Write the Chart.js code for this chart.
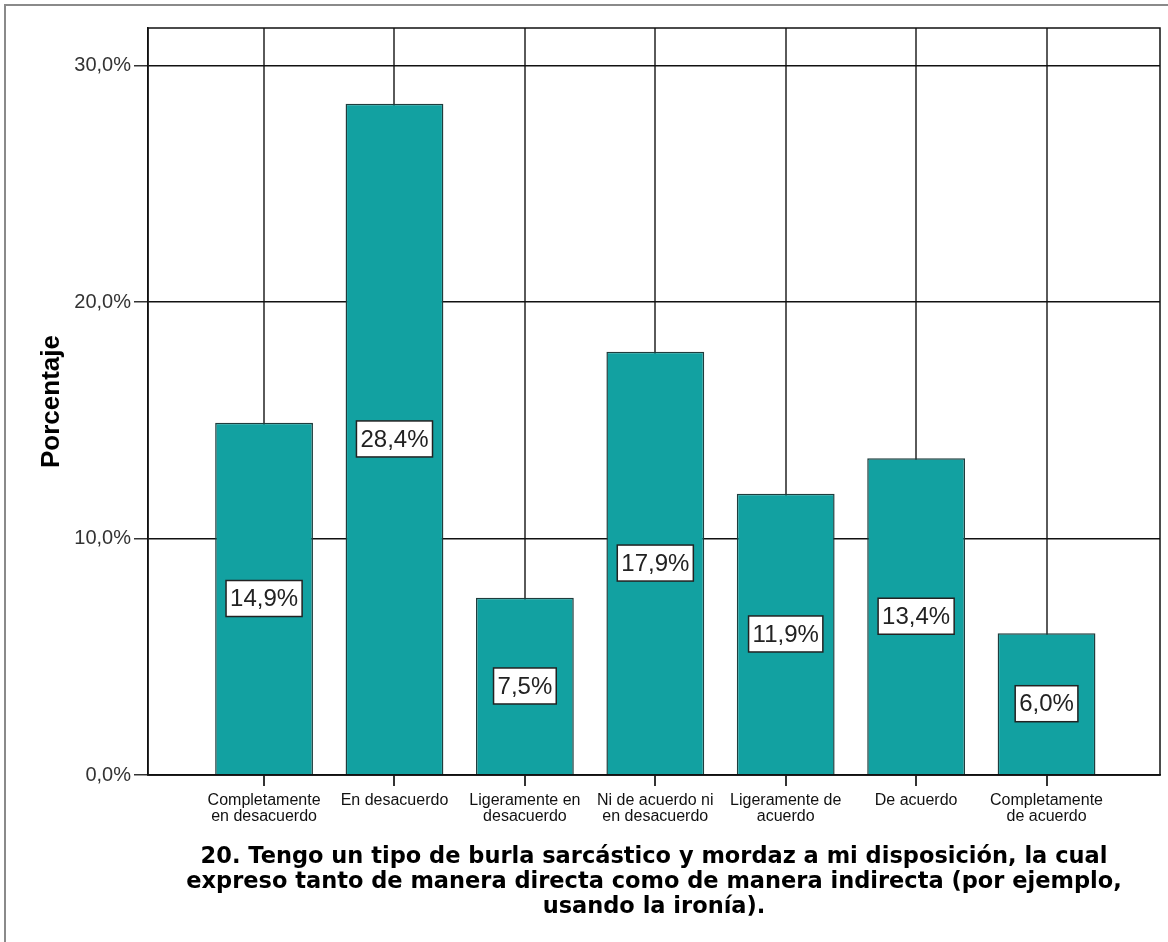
<!DOCTYPE html>
<html>

<head>
    <title>Porcentaje - pregunta 20</title>
    <script src="https://cdn.jsdelivr.net/npm/chart.js"></script>
    <style>
        body { margin: 0; background: #fff; }
        #wrap { position: relative; width: 1168px; height: 942px; }
    </style>
</head>

<body>
    <div id="wrap"><canvas id="chart"></canvas></div>

    <script>
        // Categories (two lines each, as printed under the axis)
        const categories = [
            ['Completamente', 'en desacuerdo'],
            ['En desacuerdo'],
            ['Ligeramente en', 'desacuerdo'],
            ['Ni de acuerdo ni', 'en desacuerdo'],
            ['Ligeramente de', 'acuerdo'],
            ['De acuerdo'],
            ['Completamente', 'de acuerdo']
        ];

        // Percentages
        const values = [14.9, 28.4, 7.5, 17.9, 11.9, 13.4, 6.0];

        // Y axis ticks
        const yTicks = [0, 10, 20, 30];

        const xTitle = [
            '20. Tengo un tipo de burla sarcástico y mordaz a mi disposición, la cual',
            'expreso tanto de manera directa como de manera indirecta (por ejemplo,',
            'usando la ironía).'
        ];

        function pct(v) {
            return v.toFixed(1).replace('.', ',') + '%';
        }

        // Outer frame + plot border
        const framePlugin = {
            id: 'frame',
            beforeDraw(chart) {
                const ctx = chart.ctx;
                ctx.save();
                ctx.strokeStyle = '#8a8a8a';
                ctx.lineWidth = 2;
                ctx.beginPath();
                ctx.moveTo(5, chart.height);
                ctx.lineTo(5, 5);
                ctx.lineTo(chart.width, 5);
                ctx.stroke();
                ctx.restore();
            },
            afterDatasetsDraw(chart) {
                const a = chart.chartArea;
                const ctx = chart.ctx;
                ctx.save();
                ctx.strokeStyle = '#111';
                ctx.lineWidth = 1.5;
                ctx.strokeRect(a.left, a.top, a.right - a.left, a.bottom - a.top);
                ctx.restore();
            }
        };

        // White boxed value labels at mid height of each bar
        const labelPlugin = {
            id: 'boxLabels',
            afterDatasetsDraw(chart) {
                const ctx = chart.ctx;
                const meta = chart.getDatasetMeta(0);
                ctx.save();
                ctx.font = '24px "Liberation Sans", Arial, sans-serif';
                ctx.textAlign = 'center';
                ctx.textBaseline = 'middle';
                meta.data.forEach((bar, i) => {
                    const txt = pct(values[i]);
                    const w = ctx.measureText(txt).width + 8;
                    const h = 36;
                    const cy = (bar.y + bar.base) / 2;
                    ctx.fillStyle = '#fff';
                    ctx.fillRect(bar.x - w / 2, cy - h / 2, w, h);
                    ctx.strokeStyle = '#222';
                    ctx.lineWidth = 1.5;
                    ctx.strokeRect(bar.x - w / 2, cy - h / 2, w, h);
                    ctx.fillStyle = '#222';
                    ctx.fillText(txt, bar.x, cy + 1);
                });
                ctx.restore();
            }
        };

        const ctx = document.getElementById('chart').getContext('2d');
        const chart = new Chart(ctx, {
            type: 'bar',
            data: {
                datasets: [{
                    label: 'Porcentaje',
                    data: values.map((v, i) => ({ x: i + 1, y: v })),
                    backgroundColor: '#12a1a1',
                    borderColor: '#1f3d3d',
                    borderWidth: 1.5,
                    categoryPercentage: 1,
                    barPercentage: 0.75
                }]
            },
            options: {
                responsive: true,
                maintainAspectRatio: false,
                animation: false,
                layout: { padding: { top: 28, right: 8, left: 0, bottom: 0 } },
                plugins: {
                    legend: { display: false },
                    tooltip: { enabled: false }
                },
                scales: {
                    x: {
                        type: 'linear',
                        offset: false,
                        min: 0.11,
                        max: 7.87,
                        afterBuildTicks: (scale) => {
                            scale.ticks = categories.map((c, i) => ({ value: i + 1 }));
                        },
                        afterFit: (scale) => { scale.height = 167; },
                        grid: {
                            offset: false,
                            color: '#5a5a5a',
                            lineWidth: 2,
                            tickLength: 11,
                            tickColor: '#333',
                            tickWidth: 2
                        },
                        border: { color: '#111', width: 1.5 },
                        ticks: {
                            autoSkip: false,
                            maxRotation: 0,
                            padding: 7,
                            color: '#111',
                            font: { family: '"Liberation Sans", Arial, sans-serif', size: 16, lineHeight: 1.0 },
                            callback: (v) => categories[v - 1]
                        },
                        title: {
                            display: true,
                            text: xTitle,
                            color: '#000',
                            font: { family: '"DejaVu Sans", sans-serif', size: 22.5, weight: 'bold', lineHeight: 1.111 },
                            padding: { top: 0, bottom: 22 }
                        }
                    },
                    y: {
                        min: 0,
                        max: 31.6,
                        afterBuildTicks: (scale) => {
                            scale.ticks = yTicks.map(v => ({ value: v }));
                        },
                        afterFit: (scale) => { scale.width = 148; },
                        grid: {
                            color: '#111',
                            lineWidth: 1.5,
                            tickLength: 14,
                            tickColor: '#333',
                            tickWidth: 1.5
                        },
                        border: { color: '#111', width: 1.5 },
                        ticks: {
                            padding: 3,
                            color: '#333',
                            font: { family: '"Liberation Sans", Arial, sans-serif', size: 20 },
                            callback: (v) => pct(v)
                        },
                        title: {
                            display: true,
                            text: 'Porcentaje',
                            color: '#000',
                            font: { family: '"Liberation Sans", Arial, sans-serif', size: 26, weight: 'bold', lineHeight: 1.2 },
                            padding: { top: 36, bottom: 0 }
                        }
                    }
                }
            },
            plugins: [framePlugin, labelPlugin]
        });
    </script>
</body>

</html>
